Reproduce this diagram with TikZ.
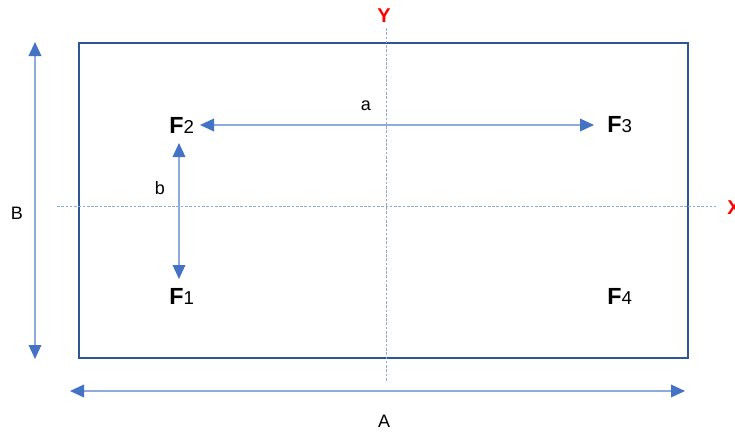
\documentclass[tikz,border=0pt]{standalone}
\usepackage{fontspec}
\setmainfont{Liberation Sans}
\usetikzlibrary{arrows.meta}
\definecolor{frame}{HTML}{2F5597}
\definecolor{arr}{HTML}{4472C4}
\definecolor{arrline}{HTML}{8FAADC}
\definecolor{axis}{HTML}{8FAADC}
\begin{document}
\begin{tikzpicture}[x=0.75pt,y=-0.75pt,
  dim/.style={draw=arrline,line width=1pt,{Triangle[length=10.5pt,width=9.5pt,color=arr]}-{Triangle[length=10.5pt,width=9.5pt,color=arr]}},
  lab/.style={font=\fontsize{13.5}{16}\selectfont,inner sep=0pt},
  force/.style={font=\fontsize{17.5}{20}\selectfont\bfseries,inner sep=0pt,anchor=west},
  axlab/.style={font=\fontsize{15}{18}\selectfont\bfseries,text=red,inner sep=0pt}]
\useasboundingbox (0,0) rectangle (735,432);
% frame
\draw[frame,line width=1.5pt] (79,43) rectangle (688,358);
% axes
\draw[axis,line width=0.6pt,dash pattern=on 2pt off 1.2pt] (386,28) -- (386,381);
\draw[axis,line width=0.6pt,dash pattern=on 2pt off 1.2pt] (57,206) -- (716,206);
\node[axlab] (ylab) at (384,16) {Y};
\node[axlab,anchor=west] (xlab) at (727,208) {X};
% dimension coordinates
\coordinate (Bt) at (35,42); \coordinate (Bb) at (35,359);
\coordinate (Al) at (70,391); \coordinate (Ar) at (685,391);
\coordinate (at) at (200,125); \coordinate (ar) at (594,125);
\coordinate (bt) at (179,143); \coordinate (bb) at (179,279);
\draw[dim] (Bt) -- (Bb);
\draw[dim] (Al) -- (Ar);
\draw[dim] (at) -- (ar);
\draw[dim] (bt) -- (bb);
\node[lab] (B) at (17,213) {B};
\node[lab] (A) at (384,421) {A};
\node[lab] (a) at (366,106) {a};
\node[lab] (b) at (160,188) {b};
% forces
\newcommand{\Fsub}[1]{F{\mdseries\fontsize{14}{16}\selectfont #1}}
\node[force] (F2) at (169,125) {\Fsub{2}};
\node[force] (F3) at (607,125) {\Fsub{3}};
\node[force] (F1) at (169,296) {\Fsub{1}};
\node[force] (F4) at (607,296) {\Fsub{4}};
\end{tikzpicture}
\end{document}
